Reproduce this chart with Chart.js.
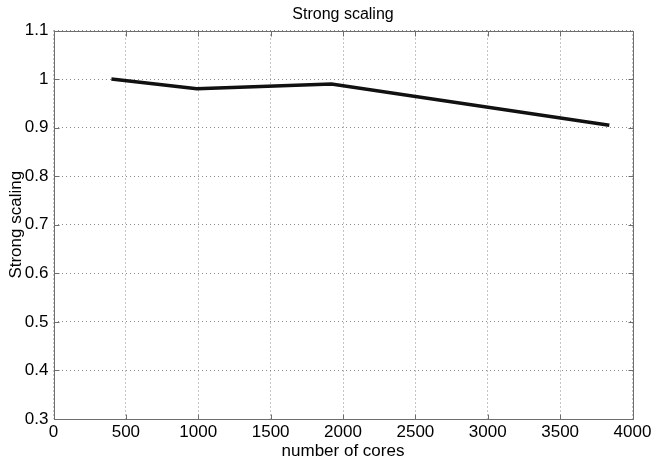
<!DOCTYPE html>
<html>
<head>
<meta charset="utf-8">
<script src="https://cdn.jsdelivr.net/npm/chart.js@4/dist/chart.umd.min.js"></script>
<style>
  html, body { margin: 0; padding: 0; background: #fff; }
  #wrap { width: 651px; height: 463px; }
</style>
</head>
<body>
<div id="wrap"><canvas id="c" width="651" height="463"></canvas></div>
<script>
// Strong scaling efficiency against the number of cores
const coreCounts = [400, 990, 1920, 3840];
const scalingValues = [1.0, 0.98, 0.99, 0.905];
const xTickValues = [0, 500, 1000, 1500, 2000, 2500, 3000, 3500, 4000];
const yTickValues = [0.3, 0.4, 0.5, 0.6, 0.7, 0.8, 0.9, 1.0, 1.1];

const FONT = 'Liberation Sans, Arial, Helvetica, sans-serif';

// Box around the plot area with short inward tick marks on every side
const boxPlugin = {
  id: 'boxTicks',
  beforeDatasetsDraw(chart) {
    const { ctx, chartArea: a, scales } = chart;
    const L = Math.round(a.left) + 0.5, R = Math.round(a.right) + 0.5;
    const T = Math.round(a.top) + 0.5, B = Math.round(a.bottom) + 0.5;
    const len = 5;
    ctx.save();
    ctx.strokeStyle = '#6e6e6e';
    ctx.lineWidth = 1;
    ctx.setLineDash([]);
    ctx.beginPath();
    ctx.rect(L, T, R - L, B - T);
    xTickValues.forEach(v => {
      const x = Math.round(scales.x.getPixelForValue(v)) + 0.5;
      ctx.moveTo(x, B); ctx.lineTo(x, B - len);
      ctx.moveTo(x, T); ctx.lineTo(x, T + len);
    });
    yTickValues.forEach(v => {
      const y = Math.round(scales.y.getPixelForValue(v)) + 0.5;
      ctx.moveTo(L, y); ctx.lineTo(L + len, y);
      ctx.moveTo(R, y); ctx.lineTo(R - len, y);
    });
    ctx.stroke();
    ctx.restore();
  }
};

new Chart(document.getElementById('c'), {
  type: 'line',
  data: {
    datasets: [{
      data: coreCounts.map((x, i) => ({ x: x, y: scalingValues[i] })),
      borderColor: '#111',
      borderWidth: 3.5,
      pointRadius: 0,
      tension: 0,
      fill: false
    }]
  },
  options: {
    responsive: false,
    animation: false,
    devicePixelRatio: 1,
    layout: { padding: { left: 0, right: 18.5, top: 0, bottom: 0 } },
    plugins: {
      legend: { display: false },
      tooltip: { enabled: false },
      title: {
        display: true,
        text: 'Strong scaling',
        fullSize: false,
        color: '#000',
        font: { family: FONT, size: 16, weight: 'normal' },
        padding: { top: 5, bottom: 6.3 }
      }
    },
    scales: {
      x: {
        type: 'linear',
        min: 0, max: 4000,
        afterBuildTicks: s => { s.ticks = xTickValues.map(v => ({ value: v })); },
        afterFit: s => { s.height = 44; s.paddingLeft = 0; s.paddingRight = 0; },
        grid: { color: '#8a8a8a', drawTicks: false, lineWidth: 1 },
        border: { display: false, dash: [1, 3] },
        ticks: {
          color: '#000', padding: 3, maxRotation: 0, autoSkip: false,
          font: { family: FONT, size: 17 },
          callback: v => String(v)
        },
        title: {
          display: true, text: 'number of cores', color: '#000',
          font: { family: FONT, size: 17 },
          padding: { top: 0, bottom: 1 }
        }
      },
      y: {
        type: 'linear',
        min: 0.3, max: 1.1,
        afterBuildTicks: s => { s.ticks = yTickValues.map(v => ({ value: v })); },
        afterFit: s => { s.width = 53.5; s.paddingTop = 0; s.paddingBottom = 0; },
        grid: { color: '#8a8a8a', drawTicks: false, lineWidth: 1 },
        border: { display: false, dash: [1, 3] },
        ticks: {
          color: '#000', padding: 5, autoSkip: false,
          font: { family: FONT, size: 17 },
          callback: v => String(+Number(v).toFixed(1))
        },
        title: {
          display: true, text: 'Strong scaling', color: '#000',
          font: { family: FONT, size: 17 },
          padding: { top: 6.5, bottom: 0 }
        }
      }
    }
  },
  plugins: [boxPlugin]
});
</script>
</body>
</html>
